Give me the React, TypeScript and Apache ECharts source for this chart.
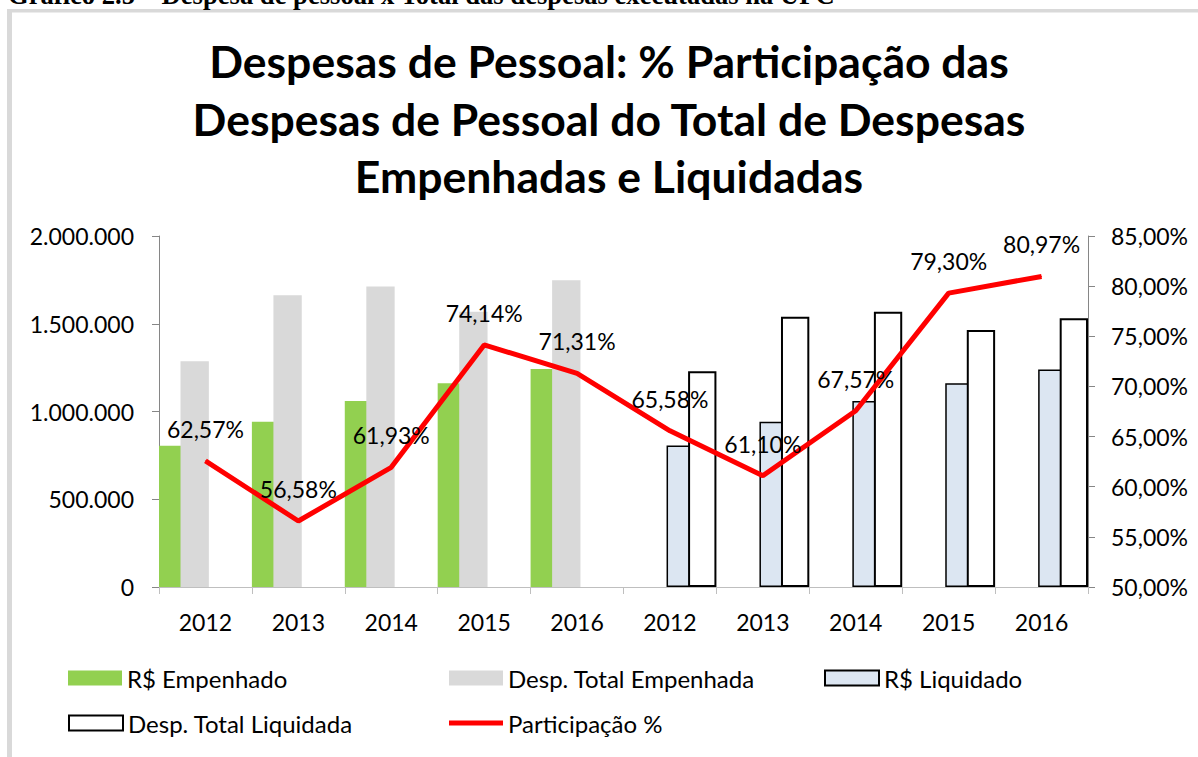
import React, { useEffect, useRef } from 'react';
import * as echarts from 'echarts';

const years = ['2012', '2013', '2014', '2015', '2016'];
const categories = [...years, ...years];
const empenhado = [805000, 941000, 1060000, 1161000, 1242000];
const totalEmpenhada = [1287000, 1663000, 1712000, 1568000, 1748000];
const liquidado = [806000, 941000, 1060000, 1161000, 1240000];
const totalLiquidada = [1229000, 1540000, 1569000, 1465000, 1531000];
const participacao = [62.57, 56.58, 61.93, 74.14, 71.31, 65.58, 61.1, 67.57, 79.3, 80.97];
const blanks = years.map(() => '-');

const titleText = 'Despesas de Pessoal: % Participação das\nDespesas de Pessoal do Total de Despesas\nEmpenhadas e Liquidadas';
const captionText = 'Gráfico 2.5 – Despesa de pessoal x Total das despesas executadas na UFC';

const FONT = 'Lato, "Open Sans", sans-serif';

const fmtThousands = (v: number) => String(v).replace(/\B(?=(\d{3})+(?!\d))/g, '.');
const fmtPct = (v: number) => v.toFixed(2).replace('.', ',') + '%';

export default function App() {
  const ref = useRef<HTMLDivElement>(null);
  useEffect(() => {
    const chart = echarts.init(ref.current!, null, { renderer: 'svg' });
    const legendBase = {
      orient: 'horizontal',
      padding: 0,
      itemWidth: 54,
      itemHeight: 15,
      icon: 'rect',
      textStyle: { fontFamily: FONT, fontSize: 24, color: '#000', lineHeight: 28 },
      selectedMode: false,
    };
    const barCommon = { type: 'bar', barWidth: '30.5%', barGap: '-24%' };
    chart.setOption({
      animation: false,
      backgroundColor: '#fff',
      graphic: [
        { type: 'rect', shape: { x: 7, y: 9, width: 5, height: 760 }, style: { fill: '#d9d9d9' }, silent: true },
        { type: 'rect', shape: { x: 7, y: 9, width: 1200, height: 3.5 }, style: { fill: '#d9d9d9' }, silent: true },
        {
          type: 'text', x: 8, y: -5.5,
          style: { text: captionText, fontFamily: '"Liberation Serif", serif', fontWeight: 'bold', fontSize: 26.6, fill: '#000', verticalAlign: 'middle', align: 'left' },
        },
        {
          type: 'text', x: 609, y: 32,
          style: { text: titleText, fontFamily: FONT, fontWeight: 'bold', fontSize: 44.5, lineHeight: 57.5, fill: '#000', align: 'center', verticalAlign: 'top' },
        },
      ],
      legend: [
        { ...legendBase, left: 68, top: 664, data: ['R$ Empenhado'] },
        { ...legendBase, left: 449, top: 664, data: ['Desp. Total Empenhada'] },
        { ...legendBase, left: 824, top: 664, data: ['R$ Liquidado'] },
        { ...legendBase, left: 68, top: 709, data: ['Desp. Total Liquidada'] },
        { ...legendBase, left: 449, top: 709, itemHeight: 5, data: [{ name: 'Participação %', icon: 'rect', itemStyle: { color: '#ff0000', borderWidth: 0 } }] },
      ],
      grid: { left: 159, right: 110, top: 236, bottom: 170, containLabel: false },
      xAxis: {
        type: 'category',
        data: categories,
        boundaryGap: true,
        axisLine: { show: true, lineStyle: { color: '#bfbfbf', width: 1 } },
        axisTick: { show: true, length: 7, lineStyle: { color: '#bfbfbf' } },
        axisLabel: { fontFamily: FONT, fontSize: 23, color: '#000', margin: 23, interval: 0 },
        splitLine: { show: false },
      },
      yAxis: [
        {
          type: 'value', min: 0, max: 2000000, interval: 500000,
          axisLine: { show: true, lineStyle: { color: '#868686' } },
          axisTick: { show: true, length: 7, lineStyle: { color: '#868686' } },
          axisLabel: { fontFamily: FONT, fontSize: 23, color: '#000', margin: 25, formatter: fmtThousands },
          splitLine: { show: false },
        },
        {
          type: 'value', position: 'right', min: 50, max: 85, interval: 5,
          axisLine: { show: true, lineStyle: { color: '#868686' } },
          axisTick: { show: true, length: 7, lineStyle: { color: '#868686' } },
          axisLabel: { fontFamily: FONT, fontSize: 23, color: '#000', margin: 23, formatter: fmtPct },
          splitLine: { show: false },
        },
      ],
      series: [
        { ...barCommon, name: 'R$ Empenhado', data: [...empenhado, ...blanks], itemStyle: { color: '#92d050' } },
        { ...barCommon, name: 'Desp. Total Empenhada', data: [...totalEmpenhada, ...blanks], itemStyle: { color: '#d9d9d9' } },
        { ...barCommon, name: 'R$ Liquidado', data: [...blanks, ...liquidado], itemStyle: { color: '#dce6f2', borderColor: '#000', borderWidth: 1.5 } },
        { ...barCommon, name: 'Desp. Total Liquidada', data: [...blanks, ...totalLiquidada], itemStyle: { color: '#ffffff', borderColor: '#000', borderWidth: 2 } },
        {
          name: 'Participação %', type: 'line', yAxisIndex: 1, data: participacao,
          symbol: 'circle', symbolSize: 1, showSymbol: true,
          lineStyle: { color: '#ff0000', width: 5 }, itemStyle: { color: '#ff0000' },
          label: { show: true, position: 'top', distance: 20, fontFamily: FONT, fontSize: 23, color: '#000', formatter: (p: any) => fmtPct(p.value) },
          z: 5,
        },
      ],
    });
    return () => chart.dispose();
  }, []);
  return <div ref={ref} style={{ position: 'absolute', left: 0, top: 0, width: 1198, height: 757, background: '#fff' }} />;
}
